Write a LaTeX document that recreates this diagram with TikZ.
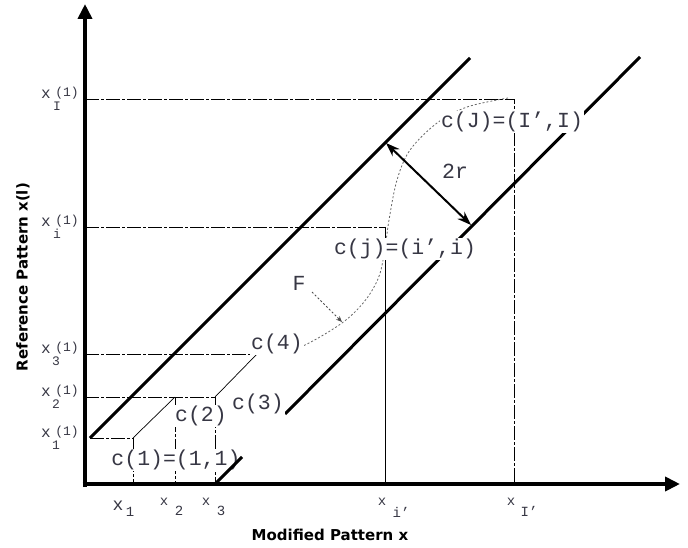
\documentclass[tikz,border=0pt]{standalone}
\usepackage{fontspec}
\setmainfont{Liberation Serif}
\newfontfamily\monofont{Liberation Mono}
\newfontfamily\labfont{DejaVu Sans}
\usetikzlibrary{arrows.meta}
\definecolor{txt}{RGB}{55,55,68}
\tikzset{
  axisline/.style={line width=4.5pt, -{Triangle[length=15pt,width=14pt]}},
  diagline/.style={line width=3pt},
  guide/.style={line width=0.7pt, dash pattern=on 14pt off 2pt on 3pt off 2pt},
  guidesolid/.style={line width=0.7pt},
  fcurve/.style={line width=0.8pt, black!60, dash pattern=on 2pt off 2pt},
  biglab/.style={font=\monofont\fontsize{21.5}{22}\selectfont, text=txt, fill=white, inner sep=1pt},
  midlab/.style={font=\monofont\fontsize{16}{16}\selectfont, text=txt, inner sep=0pt},
  smalllab/.style={font=\monofont\fontsize{13}{13}\selectfont, text=txt, inner sep=0pt},
  ticklab/.style={font=\monofont\fontsize{14}{14}\selectfont, text=txt, inner sep=0pt},
  axislab/.style={font=\labfont\bfseries\fontsize{15}{16}\selectfont, text=black, inner sep=0pt},
}
\begin{document}
\begin{tikzpicture}[x=1pt,y=-1pt]
\useasboundingbox (0,0) rectangle (688,548);
% key points
\coordinate (Ybot) at (85,487);
\coordinate (Ytip) at (85,4);
\coordinate (Xst) at (82.5,484);
\coordinate (Xtip) at (680,484);
\coordinate (U0) at (90,438);
\coordinate (U1) at (470,58);
\coordinate (L0) at (215,484);
\coordinate (Lg1) at (242,457);
\coordinate (Lg2) at (285,414);
\coordinate (L1) at (640,57);
\coordinate (c1) at (133,438);
\coordinate (c2) at (175,397);
\coordinate (c3) at (215,397);
\coordinate (c4) at (257,354);
\coordinate (cj) at (385,227);
\coordinate (cJ) at (514,99);
\coordinate (yI) at (85,99);
\coordinate (yi) at (85,227);
\coordinate (y3) at (85,354);
\coordinate (y2) at (85,397);
\coordinate (x1) at (133,484);
\coordinate (x2) at (175,484);
\coordinate (x3) at (215,484);
\coordinate (xi) at (385,484);
\coordinate (xI) at (514,484);
\coordinate (rA) at (386,143);
\coordinate (rB) at (471,225);
\coordinate (Fs) at (312,292);
\coordinate (Fe) at (342,322);

% guides
\draw[guide] (yI) -- (cJ) -- (xI);
\draw[guide] (yi) -- (cj);
\draw[guidesolid] (cj) -- (xi);
\draw[guide] (y3) -- (c4);
\draw[guide] (y2) -- (c3) -- (x3);
\draw[guide] (U0) -- (c1) -- (x1);
\draw[guide] (c2) -- (x2);
\draw[guidesolid] (c1) -- (c2);
\draw[guidesolid] (c3) -- (c4);

% warping curve F
\draw[fcurve] plot[smooth, tension=0.55] coordinates {(c4) (280,352) (305,345) (342,323) (364,302) (378,279) (384,255) (389,220) (397,180) (410,150) (437,123) (467,107) (508,98)};
\draw[line width=0.8pt, black!70, dash pattern=on 2pt off 2pt, -{Stealth[length=6pt,width=5pt]}] (Fs) -- (Fe);

% window lines
\draw[diagline] (U0) -- (U1);
\draw[diagline] (Lg2) -- (L1);
\draw[line width=2pt, {Stealth[length=14pt,width=10pt]}-{Stealth[length=14pt,width=10pt]}] (rA) -- (rB);

% labels
\node[biglab] (lc1) at (176,460) {c(1)=(1,1)};
\node[biglab] (lc2) at (201,416) {c(2)};
\node[biglab] (lc3) at (258,404) {c(3)};
\node[biglab] (lc4) at (277,344) {c(4)};
\node[biglab] (lcj) at (405,249) {c(j)=(i’,i)};
\node[biglab] (lcJ) at (512,122) {c(J)=(I’,I)};
\node[biglab, fill=none] (l2r) at (455,171) {2r};
\node[biglab, fill=none] (lF) at (299,283) {F};

% lower window line, first piece (over the c(1) label)
\draw[diagline] (L0) -- (Lg1);

% axes
\draw[axisline] (Ybot) -- (Ytip);
\draw[axisline] (Xst) -- (Xtip);

% y tick labels
\node[midlab] (yxI) at (46,94) {x};
\node[smalllab] (ysI) at (67,93) {(1)};
\node[smalllab] (ybI) at (57,106) {I};
\node[midlab] (yxi) at (46,222) {x};
\node[smalllab] (ysi) at (67,221) {(1)};
\node[smalllab] (ybi) at (57,234) {i};
\node[midlab] (yx3) at (46,349) {x};
\node[smalllab] (ys3) at (67,348) {(1)};
\node[smalllab] (yb3) at (56,361) {3};
\node[midlab] (yx2) at (46,392) {x};
\node[smalllab] (ys2) at (67,391) {(1)};
\node[smalllab] (yb2) at (56,404) {2};
\node[midlab] (yx1) at (46,433) {x};
\node[smalllab] (ys1) at (67,432) {(1)};
\node[smalllab] (yb1) at (56,445) {1};

% x tick labels
\node[midlab, font=\monofont\fontsize{18}{18}\selectfont] (xx1) at (118,506) {x};
\node[ticklab] (xb1) at (130,512) {1};
\node[ticklab] (xx2) at (164,502) {x};
\node[ticklab] (xb2) at (179,511) {2};
\node[ticklab] (xx3) at (206,502) {x};
\node[ticklab] (xb3) at (221,511) {3};
\node[ticklab] (xxi) at (382,502) {x};
\node[ticklab] (xbi) at (401,512) {i’};
\node[ticklab] (xxI) at (511,502) {x};
\node[ticklab] (xbI) at (529,511) {I’};

% axis titles
\node[axislab] (xtitle) at (330,535) {Modified Pattern x};
\node[axislab, rotate=90] (ytitle) at (23,277) {Reference Pattern x(l)};
\end{tikzpicture}
\end{document}
